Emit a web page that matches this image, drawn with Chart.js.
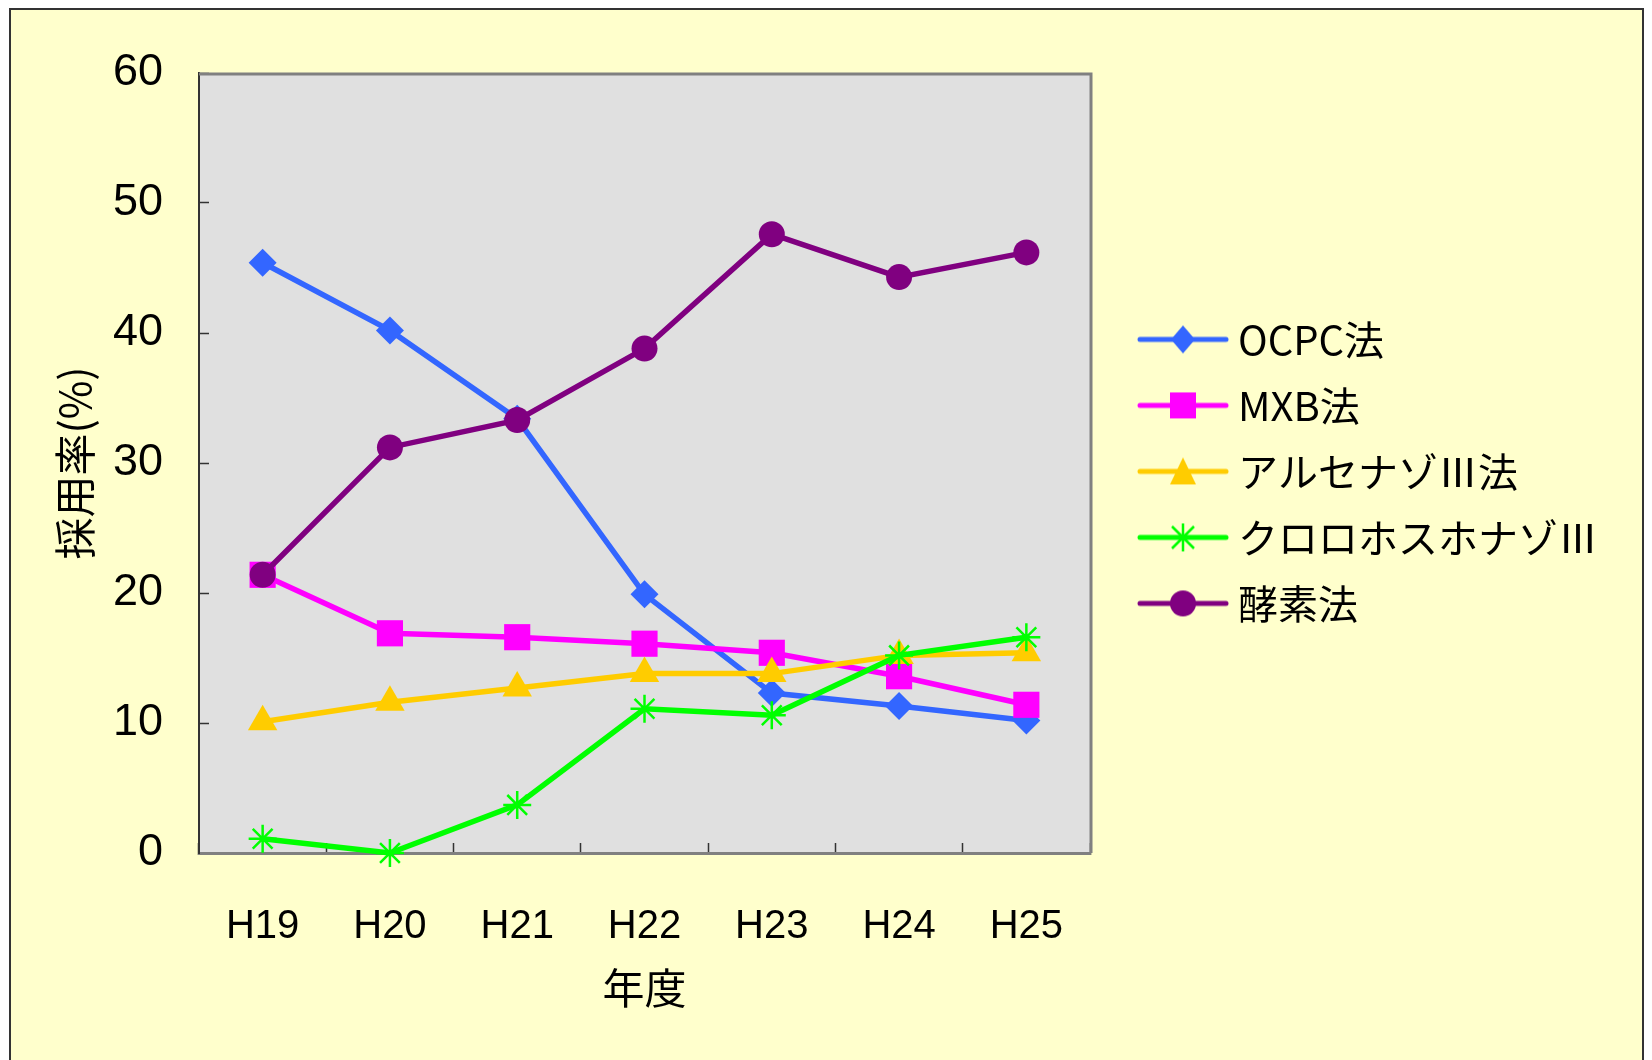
<!DOCTYPE html>
<html>
<head>
<meta charset="utf-8">
<script src="https://cdn.jsdelivr.net/npm/chart.js@4.4.1/dist/chart.umd.min.js"></script>
<style>
  html, body { margin: 0; padding: 0; background: #fff; }
  #frame { position: absolute; left: 9px; top: 8px; width: 1631px; height: 1100px; background: #FFFFCC; border: 2px solid #333; }
  #wrap { position: absolute; left: 0; top: 0; width: 1652px; height: 1060px; }
</style>
</head>
<body>
<div id="frame"></div>
<div id="wrap"><canvas id="chart" width="1652" height="1060"></canvas></div>
<script>
// 年度
const years = ['H19', 'H20', 'H21', 'H22', 'H23', 'H24', 'H25'];

// 採用率(%)
const ocpc     = [45.4, 40.2, 33.4, 19.9, 12.3, 11.3, 10.2];
const mxb      = [21.4, 16.9, 16.6, 16.1, 15.4, 13.6, 11.4];
const arsenazo = [10.1, 11.6, 12.7, 13.8, 13.8, 15.2, 15.4];
const chloro   = [1.1, 0, 3.7, 11.1, 10.6, 15.2, 16.6];
const enzyme   = [21.4, 31.2, 33.3, 38.8, 47.6, 44.3, 46.2];

const seriesNames  = ['OCPC法', 'MXB法', 'アルセナゾⅢ法', 'クロロホスホナゾⅢ', '酵素法'];
const seriesColors = ['#3366FF', '#FF00FF', '#FFCC00', '#00FF00', '#800080'];
const seriesStyles = ['rectRot', 'rect', 'triangle', 'star', 'circle'];
const yTicks = [0, 10, 20, 30, 40, 50, 60];

const numFont = "'Liberation Sans', Arial, sans-serif";
const jpFont = "'Noto Sans CJK JP', sans-serif";
const plotRight = 1090; // right edge of the grey plot box

// legend icon: line with the marker on it
function legendIcon(color, style) {
  const c = document.createElement('canvas');
  c.width = 150; c.height = 40;
  const g = c.getContext('2d');
  g.strokeStyle = color; g.fillStyle = color;
  g.lineWidth = 5; g.lineCap = 'round';
  g.beginPath(); g.moveTo(48, 20); g.lineTo(134, 20); g.stroke();
  const x = 91, y = 20;
  g.beginPath();
  if (style === 'rectRot') {
    g.moveTo(x, y - 14); g.lineTo(x + 12, y); g.lineTo(x, y + 14); g.lineTo(x - 12, y); g.closePath(); g.fill();
  } else if (style === 'rect') {
    g.fillRect(x - 13, y - 13, 26, 26);
  } else if (style === 'triangle') {
    g.moveTo(x, y - 14); g.lineTo(x + 13, y + 13); g.lineTo(x - 13, y + 13); g.closePath(); g.fill();
  } else if (style === 'star') {
    g.lineWidth = 2.5; g.lineCap = 'butt';
    g.moveTo(x, y - 14); g.lineTo(x, y + 14);
    g.moveTo(x - 11, y - 11); g.lineTo(x + 11, y + 11);
    g.moveTo(x + 11, y - 11); g.lineTo(x - 11, y + 11);
    g.stroke();
  } else {
    g.arc(x, y, 13, 0, Math.PI * 2); g.fill();
  }
  return c;
}
const legendIcons = seriesColors.map((c, i) => legendIcon(c, seriesStyles[i]));

const plotFrame = {
  id: 'plotFrame',
  beforeDraw(chart) {
    const a = chart.chartArea, ctx = chart.ctx;
    ctx.save();
    ctx.fillStyle = '#E0E0E0';
    ctx.fillRect(a.left, a.top, a.right - a.left, a.bottom - a.top);
    ctx.restore();
  },
  beforeDatasetsDraw(chart) {
    const a = chart.chartArea, ctx = chart.ctx;
    ctx.save();
    ctx.strokeStyle = '#808080';
    ctx.lineWidth = 3;
    ctx.beginPath();
    ctx.moveTo(a.left, a.top + 1);
    ctx.lineTo(a.right + 1, a.top + 1);
    ctx.lineTo(a.right + 1, a.bottom);
    ctx.stroke();
    ctx.restore();
  }
};

function makeSet(i, values) {
  const star = seriesStyles[i] === 'star';
  return {
    label: seriesNames[i],
    data: values,
    borderColor: seriesColors[i],
    backgroundColor: seriesColors[i],
    borderWidth: 5.5,
    tension: 0,
    pointStyle: seriesStyles[i],
    pointRadius: [14, 18.5, 17, 14, 13][i],
    pointBackgroundColor: seriesColors[i],
    pointBorderColor: seriesColors[i],
    pointBorderWidth: star ? 2.5 : 0,
    clip: false,
    order: 5 - i
  };
}

const chart = new Chart(document.getElementById('chart').getContext('2d'), {
  type: 'line',
  data: {
    labels: years,
    datasets: [
      makeSet(0, ocpc),
      makeSet(1, mxb),
      makeSet(2, arsenazo),
      makeSet(3, chloro),
      makeSet(4, enzyme)
    ]
  },
  options: {
    responsive: false,
    animation: false,
    devicePixelRatio: 1,
    events: [],
    layout: { padding: { top: 73, left: 0, right: 50, bottom: 0 } },
    scales: {
      x: {
        type: 'category',
        offset: true,
        grid: { offset: true, drawOnChartArea: false, tickLength: -10, tickColor: '#333', tickWidth: 1.5 },
        border: { display: true, color: '#808080', width: 3 },
        ticks: { color: '#000', font: { family: numFont, size: 40 }, padding: 60, maxRotation: 0 },
        title: { display: true, text: '年度', color: '#000', font: { family: jpFont, size: 42 }, padding: { top: 0, bottom: 47 } },
        afterFit(s) { s.height = 207; }
      },
      y: {
        min: 0,
        max: 60,
        afterBuildTicks(s) { s.ticks = yTicks.map(v => ({ value: v })); },
        grid: { drawOnChartArea: false, tickLength: -10, tickColor: '#333', tickWidth: 1.5 },
        border: { display: true, color: '#333', width: 2 },
        ticks: { color: '#000', font: { family: numFont, size: 45 }, padding: 46 },
        title: { display: true, text: '採用率(%)', color: '#000', font: { family: jpFont, size: 42 }, padding: { top: 50, bottom: 0 } },
        afterFit(s) { s.width = 199; }
      }
    },
    plugins: {
      tooltip: { enabled: false },
      legend: {
        position: 'right',
        align: 'start',
        maxWidth: 700,
        title: { display: true, text: '', font: { size: 12 }, padding: { top: 206, bottom: 0 } },
        labels: {
          usePointStyle: true,
          pointStyleWidth: 102,
          boxHeight: 40,
          padding: 26,
          color: '#000',
          font: { family: jpFont, size: 40 },
          generateLabels(chart) {
            return chart.data.datasets.map((ds, i) => ({
              text: ds.label,
              datasetIndex: i,
              pointStyle: legendIcons[i],
              fillStyle: ds.borderColor,
              strokeStyle: ds.borderColor,
              lineWidth: 0,
              fontColor: '#000',
              hidden: false
            }));
          }
        }
      }
    }
  },
  plugins: [plotFrame]
});

// move the legend so the plot box ends where it does in the original
const shift = chart.chartArea.right - plotRight;
if (Math.abs(shift) > 0.5) {
  chart.options.layout.padding.right = Math.max(0, 50 + shift);
  chart.update();
}
</script>
</body>
</html>
